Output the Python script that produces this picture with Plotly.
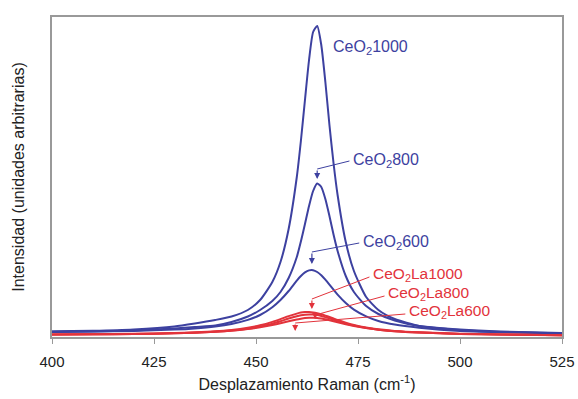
import plotly.graph_objects as go

# Raman shift (cm^-1)
shift = [400, 410, 420, 430, 435, 440, 444, 448, 451, 454, 456, 458, 460, 461, 462, 463,
         464, 465, 466, 467, 468, 469, 470, 472, 474, 477, 480, 484, 490, 500, 510, 525]

# Intensities (arbitrary units)
ceo2_1000 = [5.7, 6.3, 7.6, 10.5, 13.5, 17, 20.5, 27, 37, 55, 75, 108, 160, 196, 237, 277,
             305, 311, 292, 255, 212, 174, 142, 95, 66, 40, 27, 18, 11, 7, 5, 3.5]
ceo2_800 = [5, 5.5, 6.5, 8.5, 10, 11.5, 15, 20.5, 27, 36, 45, 59, 80, 95.5, 113, 131,
            146, 153.5, 150, 138, 121, 102.5, 86, 61, 45, 31, 23, 16.5, 11, 7.5, 5.5, 4]
ceo2_600 = [5, 5.4, 6, 7.4, 8.6, 10.5, 13, 17.1, 22, 29.8, 37, 46, 56.4, 61, 64.6, 66.6,
            66.8, 65, 61.8, 57.4, 52.4, 47.3, 42.4, 34, 27.4, 20.6, 16, 12.4, 9.3, 6, 4.8, 3.8]
ceo2la_1000 = [2.6, 2.8, 3.2, 4, 4.7, 5.7, 7.1, 9.3, 11.7, 15.1, 17.9, 20.9, 23.4, 24.4, 24.9, 25,
               24.6, 23.8, 22.7, 21.4, 20, 18.5, 17, 14.3, 12.1, 9.5, 7.7, 6.1, 4.7, 3.3, 2.6, 1.8]
ceo2la_800 = [2.5, 2.7, 3.0, 3.7, 4.3, 5.2, 6.4, 8.3, 10.4, 13.3, 15.8, 18.5, 20.8, 21.7, 22.3, 22.5,
              22.4, 21.9, 21.0, 19.9, 18.7, 17.3, 16.0, 13.5, 11.4, 9.0, 7.3, 5.7, 4.4, 3.1, 2.5, 1.8]
ceo2la_600 = [2.4, 2.7, 3.0, 3.7, 4.3, 5.2, 6.3, 8.0, 9.7, 12.0, 13.8, 15.8, 17.6, 18.3, 18.9, 19.2,
              19.2, 19.0, 18.4, 17.7, 16.8, 15.8, 14.8, 12.8, 11.0, 8.9, 7.3, 5.8, 4.4, 3.1, 2.4, 1.7]

x_ticks = [400, 425, 450, 475, 500, 525]

BLUE = "#3d41a0"
RED = "#e2333b"
FONT = "Arial, Liberation Sans, sans-serif"

series = [
    (ceo2_1000, BLUE), (ceo2_800, BLUE), (ceo2_600, BLUE),
    (ceo2la_600, RED), (ceo2la_800, RED), (ceo2la_1000, RED),
]

fig = go.Figure()
for ys, col in series:
    fig.add_trace(go.Scatter(x=shift, y=ys, mode="lines",
                             line=dict(color=col, width=2, shape="spline", smoothing=0.6),
                             showlegend=False, hoverinfo="skip"))

# labels: (text, colour, font size, text x, text y, leader start, leader end, arrow tip)
labels = [
    ("CeO<sub>2</sub>1000", BLUE, 16, 468.6, 290, None, None, None),
    ("CeO<sub>2</sub>800", BLUE, 16, 473.6, 177, (472.9, 176), (465.0, 168), (465.0, 158)),
    ("CeO<sub>2</sub>600", BLUE, 16, 476.1, 95, (475.3, 94), (463.7, 85), (463.7, 73)),
    ("CeO<sub>2</sub>La1000", RED, 15.5, 478.5, 63, (477.8, 60), (463.7, 38), (463.7, 28)),
    ("CeO<sub>2</sub>La800", RED, 15.5, 482.2, 44, (481.5, 41), (464.5, 22), (464.5, 18)),
    ("CeO<sub>2</sub>La600", RED, 15.5, 487.3, 26, (486.6, 23), (459.6, 14), (459.6, 6)),
]

for text, col, fs, tx, ty, p0, p1, tip in labels:
    fig.add_annotation(x=tx, y=ty, xref="x", yref="y", text=text, showarrow=False,
                       xanchor="left", yanchor="middle", borderpad=0,
                       font=dict(family=FONT, size=fs, color=col))
    if p0 is not None:
        fig.add_shape(type="line", xref="x", yref="y", x0=p0[0], y0=p0[1], x1=p1[0], y1=p1[1],
                      line=dict(color=col, width=1))
        fig.add_annotation(x=tip[0], y=tip[1], ax=p1[0], ay=p1[1], xref="x", yref="y",
                           axref="x", ayref="y", text="", showarrow=True,
                           arrowhead=2, arrowsize=1, arrowwidth=1.2, arrowcolor=col)

fig.update_layout(
    width=578, height=399,
    margin=dict(l=52, r=16, t=17, b=62, autoexpand=False),
    paper_bgcolor="white", plot_bgcolor="white",
    font=dict(family=FONT, size=15, color="#222"),
)
fig.update_xaxes(range=[400, 525], tickvals=x_ticks, ticks="outside", ticklen=5,
                 tickcolor="#999", showline=True, linecolor="#999", linewidth=1.5, mirror=True,
                 showgrid=False, zeroline=False, automargin=False, ticklabelstandoff=5,
                 tickfont=dict(family=FONT, size=15, color="#222"),
                 title=dict(text="Desplazamiento Raman (cm<sup>-1</sup>)",
                            font=dict(family=FONT, size=16, color="#222"), standoff=10))
fig.update_yaxes(range=[0, 320], showticklabels=False, ticks="", showline=True,
                 linecolor="#999", linewidth=1.5, mirror=True, showgrid=False, zeroline=False,
                 automargin=False,
                 title=dict(text="Intensidad (unidades arbitrarias)",
                            font=dict(family=FONT, size=16, color="#222"), standoff=22))

fig.write_html("out.html")
